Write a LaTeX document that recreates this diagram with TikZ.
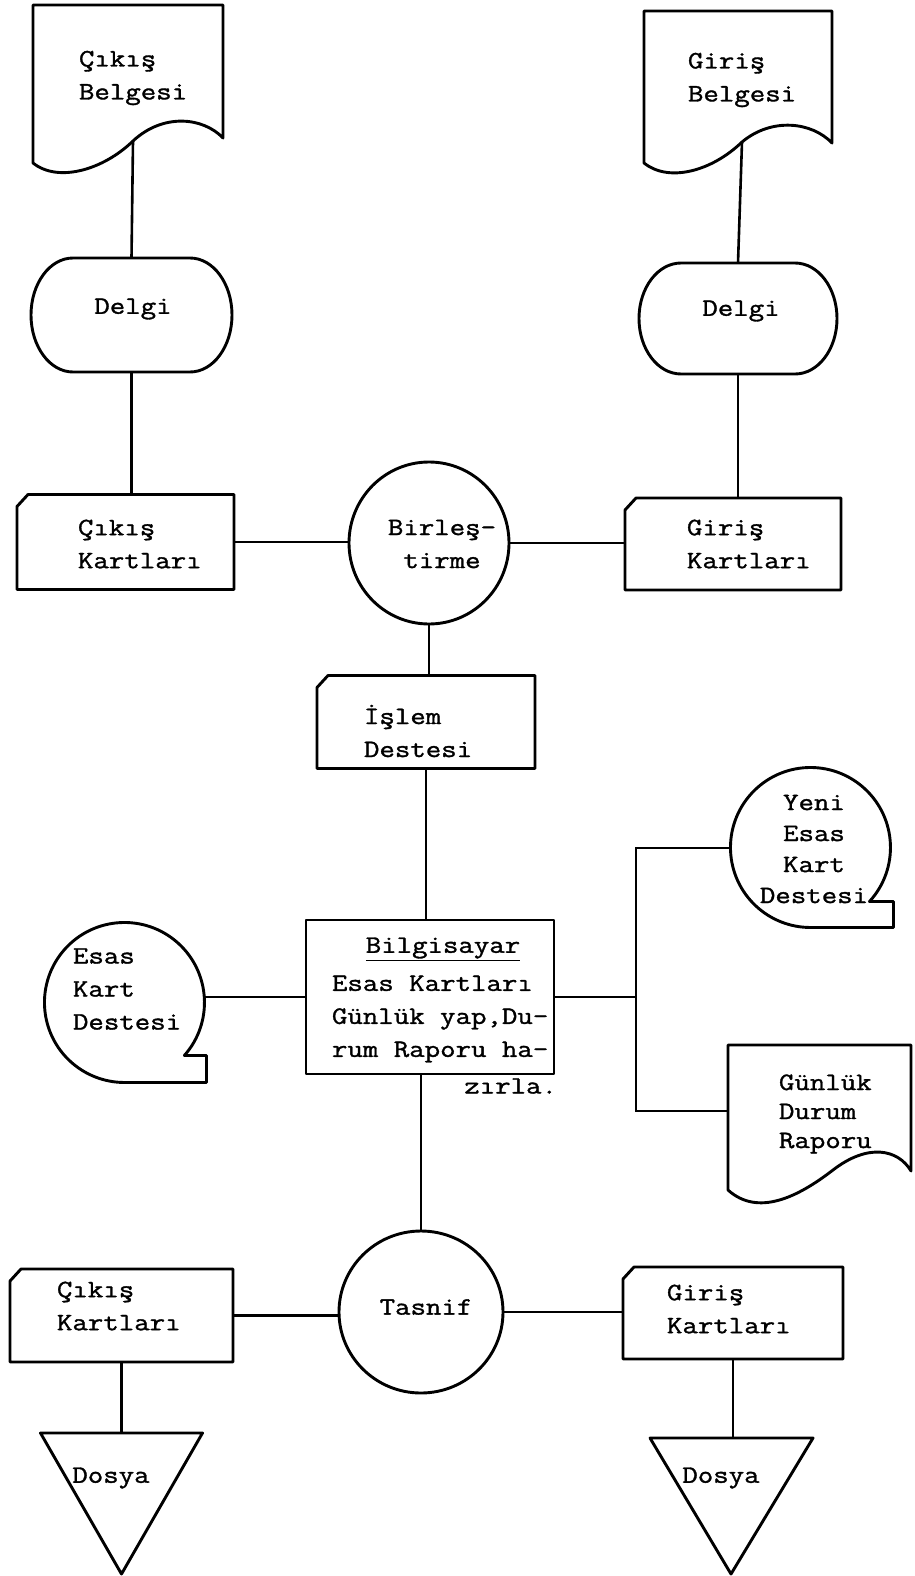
\documentclass[tikz,border=0pt]{standalone}
\usepackage{fontspec}
\newfontfamily\twfam[FakeStretch=1.2,FakeBold=1.3]{Latin Modern Mono}
\newcommand\twr{\twfam\fontsize{25}{33}\selectfont}
\usetikzlibrary{shapes.misc,shapes.geometric}
\newcommand\cardout[1]{\draw[shp] ([yshift=-12pt]#1.north west) -- ([xshift=11pt]#1.north west) -- (#1.north east) -- (#1.south east) -- (#1.south west) -- cycle;}
\newcommand\punchout[2]{\draw[shp] ([xshift=42pt]#1.north west) -- ([xshift=-42pt]#1.north east)
   arc[start angle=90, end angle=-90, x radius=42pt, y radius=#2]
   -- ([xshift=42pt]#1.south west) arc[start angle=270, end angle=90, x radius=42pt, y radius=#2] -- cycle;}
\tikzset{
  shp/.style={draw, line width=2.9pt, line join=round},
  conn/.style={line width=2.6pt},
  txt/.style={inner sep=0pt, outer sep=0pt, font=\twr},
  card/.style={rectangle, inner sep=0pt, outer sep=0pt},
  punch/.style={rectangle, inner sep=0pt, outer sep=0pt},
  proc/.style={shp, ellipse, inner sep=0pt},
  hold/.style={circle, inner sep=0pt, outer sep=0pt, minimum size=160pt},
  docA/.pic={\draw[shp] (0,0) -- (190,0) -- (190,133) .. controls (170,112) and (130,108) .. (100,136)
      .. controls (70,165) and (25,178) .. (0,158) -- cycle;
      \coordinate (-w) at (100,136);},
  docB/.pic={\draw[shp] (0,0) -- (188,0) -- (188,132) .. controls (168,111) and (128,106) .. (98,131)
      .. controls (68,160) and (25,172) .. (0,152) -- cycle;
      \coordinate (-w) at (98,131);},
  docC/.pic={\draw[shp] (0,0) -- (183,0) -- (183,126) .. controls (170,104) and (140,98) .. (105,125)
      .. controls (70,152) and (30,172) .. (0,145) -- cycle;
      \coordinate (-l) at (0,66);},
}
\begin{document}
\begin{tikzpicture}[x=1pt,y=-1pt]
\useasboundingbox (0,0) rectangle (914,1576);
% documents
\pic (cb) at (33,5) {docA};
\pic (gb) at (644,11) {docB};
\pic (gd) at (728,1045) {docC};
\node[txt, anchor=west, align=left] (cbt) at (79,78) {Çıkış\\Belgesi};
\node[txt, anchor=west, align=left] (gbt) at (688,80) {Giriş\\Belgesi};
\node[txt, anchor=west, align=left, font={\twfam\fontsize{25}{29}\selectfont}] (gdt) at (779,1114) {Günlük\\Durum\\Raporu};
% punch
\node[punch, minimum width=201pt, minimum height=114pt] (d1) at (131.5,315) {};
\punchout{d1}{57pt}
\node[txt] (d1t) at (133,309) {Delgi};
\node[punch, minimum width=198pt, minimum height=111pt] (d2) at (738,318.5) {};
\punchout{d2}{55.5pt}
\node[txt] (d2t) at (741,311) {Delgi};
% cards row 1
\node[card, minimum width=217pt, minimum height=95pt] (k1) at (125.5,542) {};
\cardout{k1}
\node[txt, anchor=west, align=left] (k1t) at (78,544) {Çıkış\\Kartları};
\node[proc, minimum width=160pt, minimum height=162pt] (birl) at (429,543) {};
\node[txt, align=center] (birlt) at (442,544) {Birleş-\\tirme};
\node[card, minimum width=216pt, minimum height=92pt] (k2) at (733,544) {};
\cardout{k2}
\node[txt, anchor=west, align=left] (k2t) at (687,544) {Giriş\\Kartları};
% islem
\node[card, minimum width=218pt, minimum height=93pt] (isl) at (426,722) {};
\cardout{isl}
\node[txt, anchor=west, align=left] (islt) at (364,731) {İşlem\\Destesi};
% computer
\node[shp, rectangle, minimum width=248pt, minimum height=154pt] (bil) at (430,997) {};
\node[txt] (bilt) at (443,949) {\underline{Bilgisayar}};
\node[txt, anchor=west, align=left] (bilb) at (332,1019) {Esas Kartları\\Günlük yap,Du-\\rum Raporu ha-};
\node[txt, anchor=east] (bilz) at (557,1086) {zırla.};
% master deck (left)
\node[hold] (ekd) at (124,1003) {};
\draw[shp] (ekd.-41.5) arc[start angle=-41.5, end angle=270, radius=80pt] -- ++(82pt,0pt) -- ++(0pt,27pt) -- cycle;
\node[txt, anchor=west, align=left] (ekdt) at (73,989) {Esas\\Kart\\Destesi};
% new master deck (right)
\node[hold] (yekd) at (810,848) {};
\draw[shp] (yekd.-42.5) arc[start angle=-42.5, end angle=270, radius=80pt] -- ++(83pt,0pt) -- ++(0pt,26pt) -- cycle;
\node[txt, align=center, font={\twfam\fontsize{25}{31}\selectfont}] (yekdt) at (814,849) {Yeni\\Esas\\Kart\\Destesi};
\coordinate (jn) at (636,997);
% sort
\node[proc, minimum width=164pt, minimum height=162pt] (tas) at (421,1312) {};
\node[txt] (tast) at (426,1307) {Tasnif};
\node[card, minimum width=223pt, minimum height=93pt] (k3) at (121.5,1315.5) {};
\cardout{k3}
\node[txt, anchor=west, align=left] (k3t) at (57,1306) {Çıkış\\Kartları};
\node[card, minimum width=220pt, minimum height=92pt] (k4) at (733,1313) {};
\cardout{k4}
\node[txt, anchor=west, align=left] (k4t) at (667,1309) {Giriş\\Kartları};
% files
\coordinate (dl) at (121.5,1433);
\coordinate (dr) at (732,1438);
\draw[shp] (dl) ++(-81,0) -- ++(162,0) -- (121.5,1574) -- cycle;
\draw[shp] (dr) ++(-82,0) -- ++(163,0) -- (731,1574) -- cycle;
\node[txt] (dlt) at (111,1478) {Dosya};
\node[txt] (drt) at (721,1478) {Dosya};
% connectors
\draw[conn] (cb-w) -- (d1.north);
\draw[conn] (d1.south) -- (d1.south |- k1.north);
\draw[conn] (gb-w) -- (d2.north);
\draw[conn] (d2.south) -- (d2.south |- k2.north);
\draw[conn] (k1.east) -- (k1.east -| birl.west);
\draw[conn] (birl.east) -- (birl.east -| k2.west);
\draw[conn] (birl.south) -- (birl.south |- isl.north);
\draw[conn] (isl.south) -- (isl.south |- bil.north);
\draw[conn] (bil.west) -- (bil.west -| ekd.east);
\draw[conn] (bil.east) -- (jn);
\draw[conn] (yekd.west) -- (yekd.west -| jn) -- (jn |- gd-l) -- (gd-l);
\draw[conn] (tas.north) -- (tas.north |- bil.south);
\draw[conn] (k3.east) -- (k3.east -| tas.west);
\draw[conn] (tas.east) -- (tas.east -| k4.west);
\draw[conn] (k3.south) -- (k3.south |- dl);
\draw[conn] (k4.south) -- (k4.south |- dr);
\end{tikzpicture}
\end{document}
